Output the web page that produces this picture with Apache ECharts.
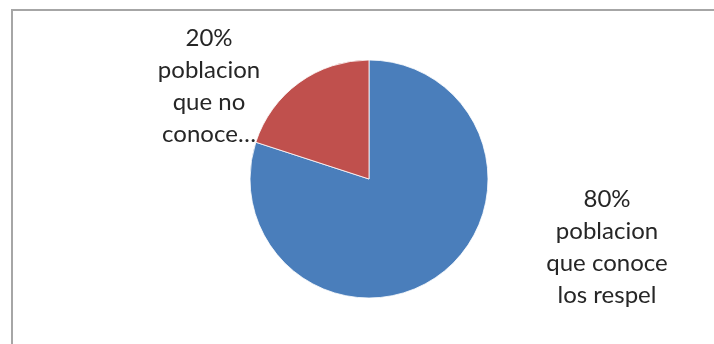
<!DOCTYPE html>
<html>
<head>
<meta charset="utf-8">
<script src="https://cdn.jsdelivr.net/npm/echarts@6/dist/echarts.min.js"></script>
<style>
  html, body { margin: 0; padding: 0; background: #fff; }
  #chart { width: 714px; height: 344px; }
</style>
</head>
<body>
<div id="chart"></div>
<script>
// Slice names as they wrap in the chart's data labels
const categories = ['poblacion\nque conoce\nlos respel', 'poblacion\nque no\nconoce…'];
const values = [80, 20];
const colors = ['#4a7ebb', '#c0504d'];

// Centre point of each slice's label block
const labelCenters = [[607, 247], [209, 86]];

const chart = echarts.init(document.getElementById('chart'), null, { renderer: 'canvas' });

chart.setOption({
  animation: false,
  backgroundColor: '#ffffff',
  graphic: [{
    type: 'rect',
    shape: { x: 12, y: 10, width: 760, height: 400 },
    style: { fill: 'none', stroke: '#a6a6a6', lineWidth: 2 },
    silent: true
  }],
  series: [{
    type: 'pie',
    center: [369, 179],
    radius: 119,
    startAngle: 90,
    clockwise: true,
    emphasis: { disabled: true },
    itemStyle: { borderColor: '#ffffff', borderWidth: 0.8 },
    label: {
      show: true,
      position: 'outside',
      formatter: p => p.percent.toFixed(0) + '%\n' + p.name,
      fontFamily: 'Lato',
      fontSize: 24,
      lineHeight: 32,
      color: '#262626',
      align: 'center'
    },
    labelLine: { show: false },
    labelLayout: p => ({
      x: labelCenters[p.dataIndex][0],
      y: labelCenters[p.dataIndex][1],
      align: 'center',
      verticalAlign: 'middle'
    }),
    data: categories.map((name, i) => ({
      name: name,
      value: values[i],
      itemStyle: { color: colors[i] }
    }))
  }]
});
</script>
</body>
</html>
